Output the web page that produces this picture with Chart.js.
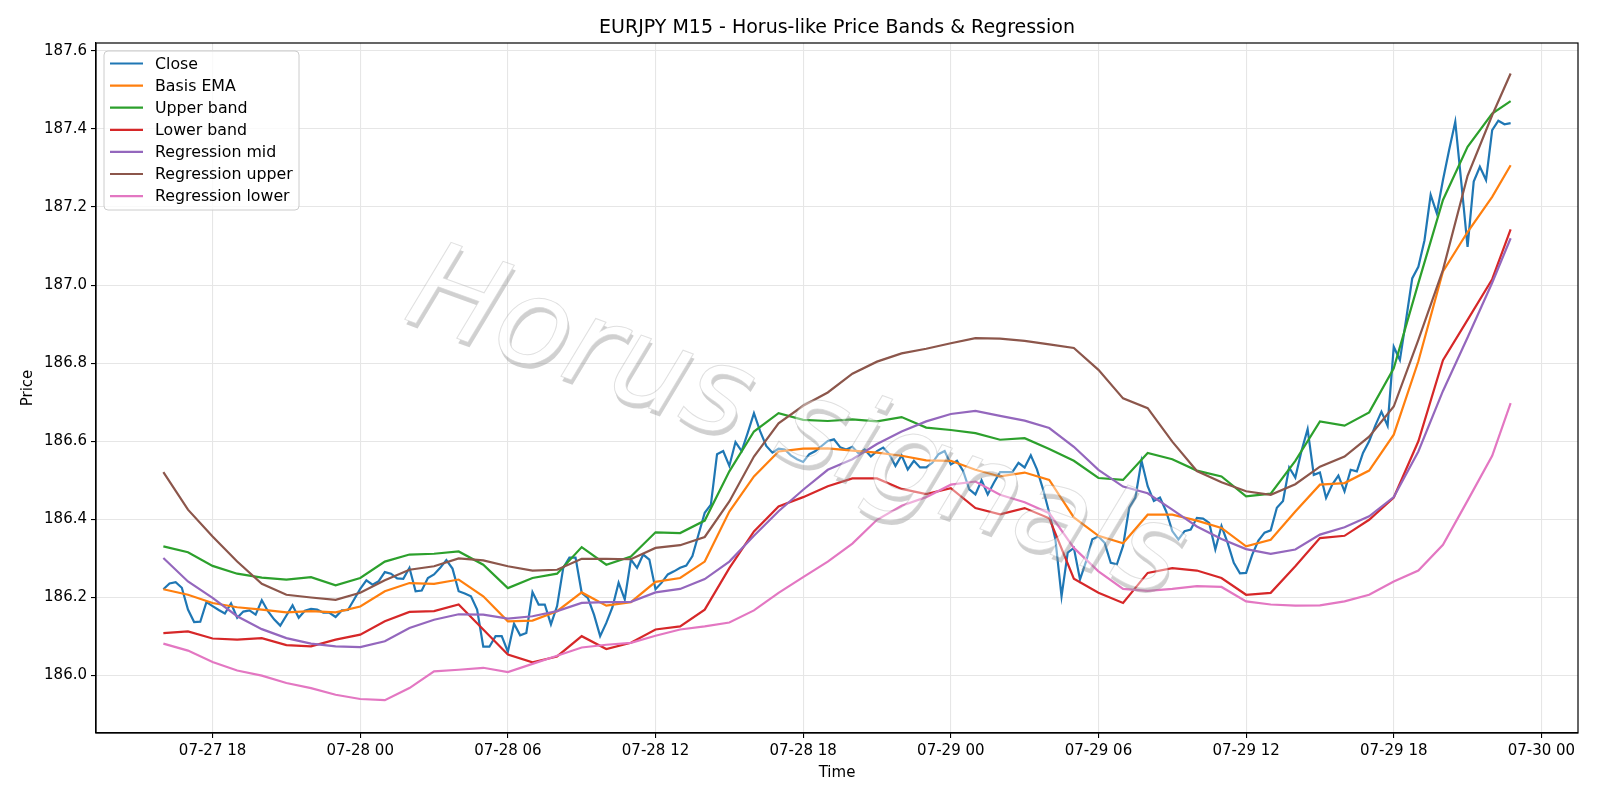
<!DOCTYPE html>
<html>
<head>
<meta charset="utf-8">
<title>EURJPY M15 - Horus-like Price Bands & Regression</title>
<script src="https://cdn.jsdelivr.net/npm/chart.js@4.4.1/dist/chart.umd.min.js"></script>
<style>
  html, body { margin: 0; padding: 0; background: #fff; }
  #wrap { width: 1600px; height: 800px; }
</style>
</head>
<body>
<div id="wrap"><canvas id="priceChart" width="1600" height="800"></canvas></div>
<script>
// hours counted from 07-27 00:00, close is one bar every 15 minutes
const startHour = 16;
const barHours = 0.25;

const closeValues = [
  186.221, 186.236, 186.239, 186.225, 186.169, 186.137, 186.138, 186.188, 186.178, 186.168,
  186.159, 186.185, 186.148, 186.164, 186.167, 186.156, 186.193, 186.165, 186.144, 186.128,
  186.154, 186.180, 186.148, 186.166, 186.171, 186.169, 186.161, 186.161, 186.150, 186.167,
  186.168, 186.195, 186.222, 186.244, 186.233, 186.242, 186.265,
  186.261, 186.249, 186.248, 186.276, 186.216, 186.218, 186.250, 186.259, 186.276, 186.296,
  186.274, 186.216, 186.210, 186.203, 186.169, 186.074, 186.074, 186.101, 186.101, 186.061,
  186.133, 186.103, 186.109, 186.214, 186.182, 186.182, 186.131, 186.178, 186.276, 186.302,
  186.302, 186.212, 186.199, 186.156, 186.101,
  186.135, 186.175, 186.238, 186.195, 186.297, 186.276, 186.310, 186.297, 186.221, 186.238,
  186.259, 186.267, 186.276, 186.282, 186.306, 186.362, 186.417, 186.438, 186.567, 186.575,
  186.537, 186.598, 186.575, 186.622, 186.672, 186.626, 186.588, 186.571, 186.581, 186.579,
  186.564, 186.554, 186.547, 186.567, 186.575, 186.588, 186.601, 186.605, 186.585,
  186.579, 186.586, 186.569, 186.579, 186.561, 186.575, 186.584, 186.567, 186.537, 186.564,
  186.528, 186.550, 186.533, 186.533, 186.545, 186.567, 186.575, 186.541, 186.550, 186.524,
  186.477, 186.464, 186.500, 186.464, 186.494, 186.521, 186.521, 186.521, 186.545, 186.533,
  186.564, 186.528, 186.477, 186.417, 186.349,
  186.203, 186.315, 186.327, 186.246, 186.293, 186.349, 186.356, 186.340, 186.289, 186.285,
  186.332, 186.430, 186.456, 186.550, 186.485, 186.447, 186.456, 186.421, 186.370, 186.349,
  186.370, 186.374, 186.404, 186.402, 186.391, 186.323, 186.383, 186.340, 186.289, 186.262,
  186.263, 186.310, 186.346, 186.366, 186.372, 186.430, 186.447, 186.533, 186.507, 186.575,
  186.631, 186.514, 186.520, 186.455, 186.489, 186.512, 186.472, 186.527, 186.523, 186.570,
  186.600, 186.640, 186.676, 186.640, 186.842, 186.808, 186.911, 187.017, 187.047, 187.115,
  187.231, 187.184, 187.269, 187.346, 187.418, 187.260, 187.098, 187.265, 187.303, 187.269,
  187.397, 187.421, 187.412, 187.415
];

// the smoother lines, read once per hour
const bandHours = [
  16, 17, 18, 19, 20, 21, 22, 23, 24, 25, 26, 27, 28, 29, 30, 31, 32, 33, 34, 35,
  36, 37, 38, 39, 40, 41, 42, 43, 44, 45, 46, 47, 48, 49, 50, 51, 52, 53, 54, 55,
  56, 57, 58, 59, 60, 61, 62, 63, 64, 65, 66, 67, 68, 69, 70, 70.75
];

const basisEma = [
  186.221, 186.207, 186.186, 186.175, 186.169, 186.162, 186.165, 186.162, 186.177, 186.216,
  186.237, 186.235, 186.246, 186.203, 186.139, 186.141, 186.165, 186.213, 186.179, 186.188,
  186.240, 186.250, 186.292, 186.420, 186.510, 186.574, 186.581, 186.582, 186.576, 186.571,
  186.563, 186.551, 186.550, 186.527, 186.510, 186.520, 186.501, 186.405, 186.358, 186.339,
  186.412, 186.412, 186.397, 186.378, 186.331, 186.348, 186.420, 186.489, 186.493, 186.525,
  186.617, 186.805, 187.035, 187.136, 187.226, 187.307
];

const upperBand = [
  186.331, 186.316, 186.281, 186.261, 186.251, 186.246, 186.252, 186.231, 186.250, 186.292,
  186.310, 186.312, 186.318, 186.284, 186.224, 186.250, 186.261, 186.329, 186.284, 186.305,
  186.367, 186.365, 186.397, 186.523, 186.625, 186.672, 186.655, 186.652, 186.656, 186.651,
  186.662, 186.635, 186.629, 186.621, 186.604, 186.608, 186.580, 186.550, 186.506, 186.501,
  186.570, 186.554, 186.525, 186.510, 186.459, 186.466, 186.550, 186.651, 186.640, 186.674,
  186.787, 187.005, 187.218, 187.354, 187.439, 187.471
];

const lowerBand = [
  186.109, 186.113, 186.095, 186.092, 186.096, 186.078, 186.075, 186.092, 186.105, 186.139,
  186.163, 186.165, 186.182, 186.118, 186.054, 186.034, 186.049, 186.101, 186.068, 186.084,
  186.118, 186.126, 186.169, 186.275, 186.369, 186.433, 186.457, 186.485, 186.505, 186.505,
  186.478, 186.465, 186.480, 186.429, 186.413, 186.429, 186.403, 186.248, 186.212, 186.186,
  186.263, 186.275, 186.269, 186.250, 186.207, 186.212, 186.280, 186.352, 186.358, 186.399,
  186.456, 186.600, 186.808, 186.911, 187.015, 187.143
];

const regMid = [
  186.301, 186.241, 186.199, 186.152, 186.119, 186.096, 186.082, 186.075, 186.073, 186.088,
  186.122, 186.143, 186.157, 186.156, 186.146, 186.152, 186.165, 186.186, 186.188, 186.189,
  186.213, 186.222, 186.247, 186.292, 186.358, 186.421, 186.476, 186.527, 186.554, 186.593,
  186.625, 186.651, 186.670, 186.678, 186.665, 186.653, 186.634, 186.586, 186.527, 186.484,
  186.467, 186.425, 186.382, 186.350, 186.324, 186.312, 186.323, 186.361, 186.380, 186.408,
  186.457, 186.574, 186.729, 186.866, 187.006, 187.120
];

const regUpper = [
  186.521, 186.425, 186.356, 186.292, 186.235, 186.207, 186.200, 186.194, 186.212, 186.244,
  186.271, 186.280, 186.300, 186.295, 186.280, 186.269, 186.271, 186.299, 186.299, 186.298,
  186.327, 186.334, 186.355, 186.446, 186.561, 186.646, 186.691, 186.725, 186.773, 186.804,
  186.825, 186.837, 186.851, 186.864, 186.863, 186.857, 186.848, 186.839, 186.783, 186.710,
  186.685, 186.599, 186.524, 186.495, 186.472, 186.463, 186.490, 186.535, 186.561, 186.612,
  186.689, 186.860, 187.039, 187.280, 187.435, 187.542
];

const regLower = [
  186.082, 186.064, 186.035, 186.013, 186.000, 185.981, 185.968, 185.951, 185.940, 185.937,
  185.968, 186.011, 186.015, 186.020, 186.009, 186.030, 186.051, 186.072, 186.079, 186.084,
  186.102, 186.118, 186.126, 186.136, 186.167, 186.212, 186.252, 186.292, 186.338, 186.399,
  186.435, 186.457, 186.489, 186.497, 186.463, 186.444, 186.416, 186.327, 186.267, 186.222,
  186.217, 186.222, 186.229, 186.227, 186.190, 186.182, 186.179, 186.180, 186.190, 186.207,
  186.241, 186.269, 186.335, 186.448, 186.563, 186.698
];

const xTickHours = [18, 24, 30, 36, 42, 48, 54, 60, 66, 72];
const xTickLabels = ['07-27 18', '07-28 00', '07-28 06', '07-28 12', '07-28 18',
  '07-29 00', '07-29 06', '07-29 12', '07-29 18', '07-30 00'];
const yTicks = [186.0, 186.2, 186.4, 186.6, 186.8, 187.0, 187.2, 187.4, 187.6];

const chartTitle = 'EURJPY M15 - Horus-like Price Bands & Regression';
const seriesNames = ['Close', 'Basis EMA', 'Upper band', 'Lower band',
  'Regression mid', 'Regression upper', 'Regression lower'];
const seriesColors = ['#1f77b4', '#ff7f0e', '#2ca02c', '#d62728', '#9467bd', '#8c564b', '#e377c2'];

const FONT = "'DejaVu Sans', sans-serif";
Chart.defaults.font.family = FONT;
Chart.defaults.color = '#000';

function hourly(values) {
  return bandHours.map((h, k) => ({ x: h, y: values[k] }));
}

const lineData = [
  closeValues.map((v, i) => ({ x: startHour + i * barHours, y: v })),
  hourly(basisEma),
  hourly(upperBand),
  hourly(lowerBand),
  hourly(regMid),
  hourly(regUpper),
  hourly(regLower)
];

// watermark drawn offscreen first so the letters stay white inside
function drawWatermark(chart) {
  const off = document.createElement('canvas');
  off.width = chart.width;
  off.height = chart.height;
  const o = off.getContext('2d');
  o.translate(795, 428);
  o.rotate(20 * Math.PI / 180);
  o.font = "oblique 121px 'DejaVu Sans'";
  o.textAlign = 'center';
  o.textBaseline = 'middle';
  o.fillStyle = '#909090';
  o.fillText('Horus signals', 3, 4);
  o.fillStyle = '#ffffff';
  o.fillText('Horus signals', 0, 0);
  o.strokeStyle = 'rgba(150,150,150,0.7)';
  o.lineWidth = 1;
  o.strokeText('Horus signals', 0, 0);
  const ctx = chart.ctx;
  ctx.save();
  ctx.globalAlpha = 0.42;
  ctx.drawImage(off, 0, 0);
  ctx.restore();
}

function drawLegend(ctx) {
  const x = 104, y = 51, w = 195, h = 159;
  ctx.save();
  ctx.beginPath();
  ctx.roundRect(x, y, w, h, 4);
  ctx.fillStyle = 'rgba(255,255,255,0.8)';
  ctx.fill();
  ctx.strokeStyle = '#cccccc';
  ctx.lineWidth = 1;
  ctx.stroke();
  ctx.font = '15.8px ' + FONT;
  ctx.textBaseline = 'middle';
  seriesNames.forEach((name, k) => {
    const ry = 63.5 + k * 22.1;
    ctx.strokeStyle = seriesColors[k];
    ctx.lineWidth = 2.2;
    ctx.beginPath();
    ctx.moveTo(110, ry);
    ctx.lineTo(143, ry);
    ctx.stroke();
    ctx.fillStyle = '#000';
    ctx.fillText(name, 155, ry + 1);
  });
  ctx.restore();
}

const overlays = {
  id: 'overlays',
  afterDatasetsDraw(chart) {
    const ctx = chart.ctx;
    const a = chart.chartArea;
    drawWatermark(chart);
    ctx.save();
    ctx.strokeStyle = '#000';
    ctx.lineWidth = 1.2;
    ctx.strokeRect(a.left, a.top, a.right - a.left, a.bottom - a.top);
    // title centred over the plot area, as matplotlib does
    ctx.fillStyle = '#000';
    ctx.font = '19px ' + FONT;
    ctx.textAlign = 'center';
    ctx.textBaseline = 'alphabetic';
    ctx.fillText(chartTitle, (a.left + a.right) / 2, 33);
    ctx.restore();
    drawLegend(ctx);
  }
};

const ctx = document.getElementById('priceChart').getContext('2d');
const priceChart = new Chart(ctx, {
  type: 'line',
  data: {
    datasets: lineData.map((pts, k) => ({
      label: seriesNames[k],
      data: pts,
      borderColor: seriesColors[k],
      backgroundColor: seriesColors[k],
      borderWidth: 2.2,
      pointRadius: 0,
      tension: 0,
      fill: false,
      order: 7 - k
    }))
  },
  options: {
    responsive: false,
    devicePixelRatio: 1,
    animation: false,
    layout: { padding: { left: 0, right: 22, top: 43, bottom: 0 } },
    plugins: {
      legend: { display: false },
      tooltip: { enabled: false },
      title: { display: false }
    },
    scales: {
      x: {
        type: 'linear',
        min: 13.2625,
        max: 73.4875,
        afterBuildTicks: axis => { axis.ticks = xTickHours.map(v => ({ value: v })); },
        afterFit: axis => { axis.height = 67; },
        ticks: {
          autoSkip: false,
          maxRotation: 0,
          padding: 4,
          font: { size: 15 },
          color: '#000',
          callback: v => xTickLabels[xTickHours.indexOf(v)]
        },
        grid: { color: '#e6e6e6', lineWidth: 1.1, tickColor: '#000', tickLength: 5, tickWidth: 1.1 },
        border: { display: true, color: '#000', width: 1.2 },
        title: { display: true, text: 'Time', font: { size: 15 }, color: '#000', padding: { top: 0, bottom: 18 } }
      },
      y: {
        type: 'linear',
        min: 185.853,
        max: 187.62,
        afterBuildTicks: axis => { axis.ticks = yTicks.map(v => ({ value: v })); },
        afterFit: axis => { axis.width = 96; },
        ticks: {
          padding: 4,
          font: { size: 15 },
          color: '#000',
          callback: v => v.toFixed(1)
        },
        grid: { color: '#e6e6e6', lineWidth: 1.1, tickColor: '#000', tickLength: 5, tickWidth: 1.1 },
        border: { display: true, color: '#000', width: 1.2 },
        title: { display: true, text: 'Price', font: { size: 15 }, color: '#000', padding: { top: 19, bottom: 0 } }
      }
    }
  },
  plugins: [overlays]
});
</script>
</body>
</html>
